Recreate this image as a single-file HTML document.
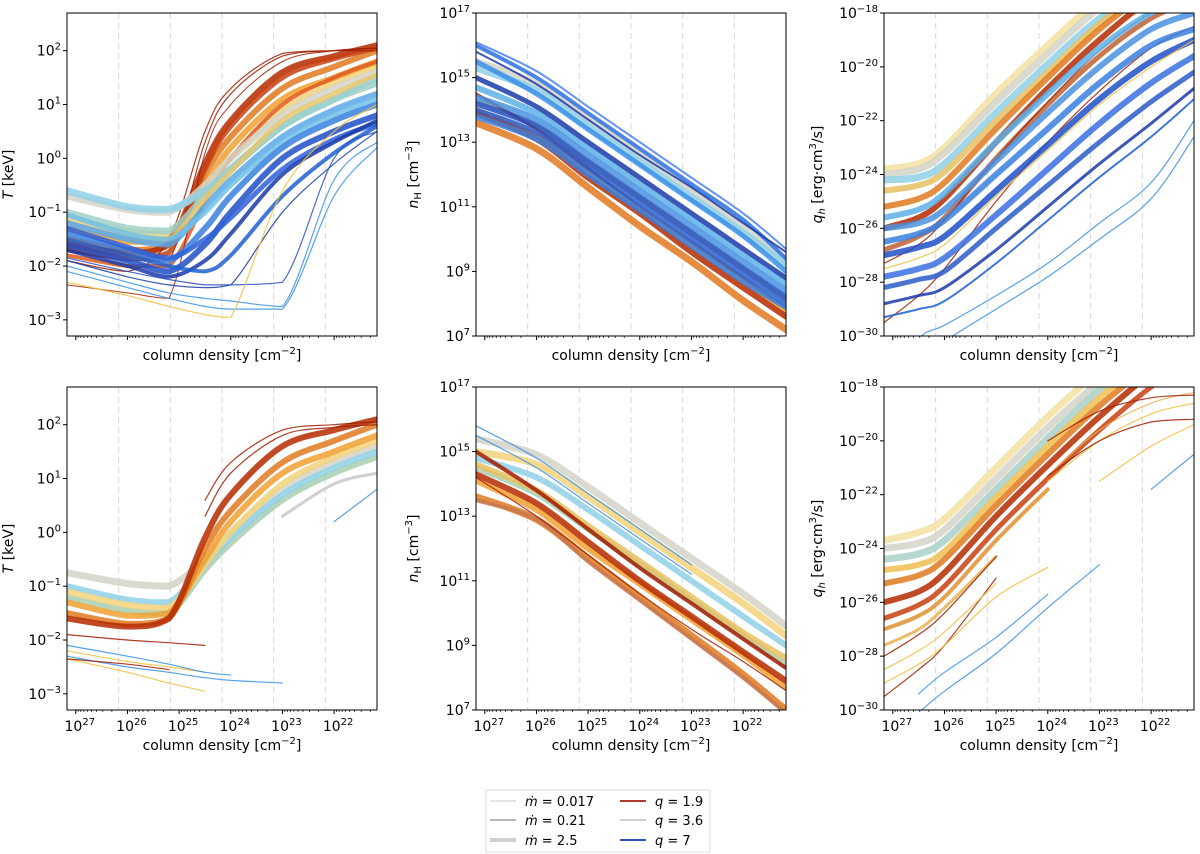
<!DOCTYPE html>
<html><head><meta charset="utf-8"><style>
html,body{margin:0;padding:0;background:#fff;}
svg{display:block;font-family:"DejaVu Sans","Liberation Sans",sans-serif;}
</style></head><body>
<svg id="fig" width="1200" height="854" viewBox="0 0 1200 854" xmlns="http://www.w3.org/2000/svg">
<g id="legend">
<rect x="486" y="790" width="224" height="62" fill="#fff" stroke="#ddd"/>
<line x1="490" y1="801" x2="516" y2="801" stroke="#c8c8c8" stroke-width="1"/>
<text x="525" y="806" font-size="13"><tspan font-style="italic">ṁ</tspan> = 0.017</text>
<line x1="490" y1="820" x2="516" y2="820" stroke="#b8b8b8" stroke-width="2"/>
<text x="525" y="825" font-size="13"><tspan font-style="italic">ṁ</tspan> = 0.21</text>
<line x1="490" y1="840" x2="516" y2="840" stroke="#d0d0d0" stroke-width="4"/>
<text x="525" y="845" font-size="13"><tspan font-style="italic">ṁ</tspan> = 2.5</text>
<line x1="620" y1="801" x2="646" y2="801" stroke="#b03a2e" stroke-width="2"/>
<text x="655" y="806" font-size="13"><tspan font-style="italic">q</tspan> = 1.9</text>
<line x1="620" y1="820" x2="646" y2="820" stroke="#cfcfcf" stroke-width="2"/>
<text x="655" y="825" font-size="13"><tspan font-style="italic">q</tspan> = 3.6</text>
<line x1="620" y1="840" x2="646" y2="840" stroke="#3050c0" stroke-width="2"/>
<text x="655" y="845" font-size="13"><tspan font-style="italic">q</tspan> = 7</text>
</g>
</svg>
<script>
const X_T=[27.17,26,25.2,24.5,24,23,22,21.17];
const X_N=[27.17,26,25,24,23,22,21.17];
const X_Q=[27.17,26.5,26,25,24,23,22,21.17];
const xTicks=[27,26,25,24,23,22];
const dashedAt=[26.17,25.17,24.17,23.17,22.17];
const tTicks=[-3,-2,-1,0,1,2];
const nTicks=[7,9,11,13,15,17];
const qTicks=[-30,-28,-26,-24,-22,-20,-18];
const _=null;
const curvesT1=[
['#f3d27a',6,[-1.1,-1.35,-1.4,-0.6,0.0,0.9,1.4,1.7]],
['#f0a030',6,[-1.3,-1.55,-1.5,-0.5,0.2,1.1,1.5,1.8]],
['#e07a20',6,[-1.5,-1.7,-1.6,-0.3,0.4,1.3,1.7,2.0]],
['#b52a00',6,[-1.6,-1.75,-1.6,-0.1,0.7,1.6,1.9,2.1]],
['#c84010',5,[-1.7,-1.85,-1.75,-0.2,0.6,1.5,1.85,2.05]],
['#e05a20',4,[-1.8,-2.0,-2.0,-0.8,0.0,1.0,1.5,1.8]],
['#a01c00',1.2,[-1.7,-1.9,-1.9,0.3,1.2,1.9,2.0,2.05]],
['#a01c00',1.2,[-1.9,-2.1,-1.5,0.5,1.3,1.95,2.0,2.0]],
['#a01c00',1,[-2.35,-2.5,-2.6,0.1,1.0,1.8,2.0,2.05]],
['#d3d3c8',7,[-0.7,-0.95,-1.0,-0.5,0.0,0.8,1.3,1.6]],
['#8fd0e8',7,[-0.6,-0.9,-0.95,-0.6,-0.2,0.6,1.1,1.5]],
['#9fd0c8',7,[-1.0,-1.3,-1.35,-0.7,-0.2,0.6,1.1,1.4]],
['#e8c870',5,[-1.2,-1.45,-1.5,-0.75,-0.25,0.7,1.2,1.55]],
['#5aa8e8',6,[-1.2,-1.5,-1.6,-0.9,-0.4,0.4,0.9,1.2]],
['#70c0e8',5,[-1.05,-1.4,-1.5,-1.0,-0.5,0.3,0.8,1.1]],
['#3a80e0',6,[-1.4,-1.7,-1.9,-1.3,-0.7,0.2,0.7,1.0]],
['#2050c8',6,[-1.6,-1.9,-2.1,-1.6,-1.0,0.0,0.5,0.8]],
['#3060d8',5,[-1.3,-1.65,-1.85,-1.5,-1.1,-0.2,0.35,0.65]],
['#1a3aa8',4,[-1.7,-2.0,-2.2,-1.9,-1.4,-0.3,0.3,0.7]],
['#2060d0',4,[-1.5,-1.8,-2.0,-2.1,-1.8,-0.7,0.1,0.6]],
['#1a3aa8',1.2,[-1.9,-2.2,-2.35,-2.4,-2.35,-1.0,-0.1,0.5]],
['#2a50c0',1.2,[-1.85,-2.1,-2.25,-2.35,-2.35,-2.3,0.0,0.5]],
['#3a90e8',1.2,[-2.0,-2.3,-2.5,-2.6,-2.65,-2.75,-0.4,0.3]],
['#3a90e8',1.2,[-2.1,-2.4,-2.6,-2.75,-2.8,-2.8,-0.7,0.2]],
['#f0c040',1.2,[-2.3,-2.55,-2.75,-2.9,-2.95,-0.6,0.5,1.0]]
];
const curvesN1=[
['#f3d27a',6,[14.3,13.5,12.4,11.3,10.2,9.1,8.1]],
['#f0a030',6,[14.0,13.2,12.1,10.9,9.8,8.7,7.8]],
['#e07a20',7,[13.6,12.8,11.6,10.4,9.3,8.1,7.2]],
['#b52a00',6,[13.9,13.1,11.9,10.8,9.6,8.5,7.6]],
['#a01c00',3,[14.5,13.4,12.2,11.0,9.9,8.8,7.9]],
['#d3d3c8',7,[15.5,14.8,13.7,12.6,11.5,10.4,9.3]],
['#8fd0e8',7,[15.3,14.6,13.5,12.4,11.3,10.2,9.2]],
['#5ab0e8',6,[14.7,13.9,12.8,11.7,10.6,9.5,8.6]],
['#2a60d0',5,[14.0,13.3,12.2,11.1,10.0,8.9,8.0]],
['#3a80e0',6,[13.8,13.1,12.0,10.9,9.8,8.7,7.9]],
['#2050c8',6,[14.2,13.5,12.4,11.3,10.2,9.1,8.2]],
['#4a90e0',6,[14.4,13.7,12.6,11.5,10.4,9.3,8.4]],
['#1a3aa8',5,[15.0,14.1,13.0,11.9,10.8,9.7,8.8]],
['#3a90e8',5,[15.5,14.5,13.4,12.3,11.2,10.1,9.0]],
['#2a70e0',4,[16.0,15.0,13.9,12.8,11.7,10.6,9.4]],
['#1a3aa8',2,[15.8,14.8,13.7,12.6,11.6,10.5,9.6]],
['#4a80f0',2,[16.1,15.2,14.1,13.0,11.9,10.8,9.7]]
];
const curvesQ1=[
['#f3e0a0',7,[-23.8,-23.6,-23.0,-21.0,-19.2,-17.5,-16.2,-15.6]],
['#d3d3c8',7,[-24.0,-23.8,-23.2,-21.3,-19.5,-17.8,-16.5,-16.0]],
['#8fd0e8',7,[-24.2,-24.1,-23.6,-21.7,-19.9,-18.2,-17.0,-16.5]],
['#e8c060',6,[-24.6,-24.4,-23.9,-22.0,-20.2,-18.4,-17.1,-16.5]],
['#e07a20',6,[-25.2,-24.9,-24.3,-22.3,-20.4,-18.6,-17.2,-16.5]],
['#b52a00',6,[-26.0,-25.6,-24.9,-22.8,-20.8,-19.0,-17.5,-17.0]],
['#c06030',5,[-26.8,-26.3,-25.6,-23.4,-21.4,-19.6,-18.2,-17.5]],
['#a01c00',1.2,[-27.3,-26.6,-25.7,-23.4,-21.3,-19.4,-18.0,-17.5]],
['#a01c00',1.2,[-29.5,-28.5,-27.5,-25.0,-22.8,-20.9,-19.3,-18.5]],
['#5ab0e8',6,[-25.6,-25.3,-24.7,-22.8,-21.0,-19.3,-18.0,-17.5]],
['#4a90e0',6,[-26.0,-25.8,-25.3,-23.5,-21.7,-20.0,-18.6,-18.0]],
['#3a80e0',6,[-26.5,-26.2,-25.7,-24.0,-22.3,-20.6,-19.2,-18.6]],
['#2050c8',6,[-27.0,-26.7,-26.3,-24.6,-22.9,-21.2,-19.8,-19.0]],
['#3a70e0',6,[-27.8,-27.5,-27.1,-25.5,-23.8,-22.1,-20.6,-19.6]],
['#2a5cc8',5,[-28.2,-27.9,-27.6,-26.0,-24.4,-22.8,-21.3,-20.2]],
['#f0c040',1.2,[-27.5,-27.1,-26.6,-24.8,-23.1,-21.4,-20.0,-19.0]],
['#1a3aa8',3,[-28.8,-28.5,-28.2,-26.8,-25.2,-23.6,-22.1,-20.8]],
['#2060d0',2,[-29.3,-29.0,-28.7,-27.3,-25.7,-24.1,-22.6,-21.2]],
['#3a90e8',1.2,[-32,-30.1,-29.6,-28.5,-27.3,-25.8,-24.3,-22.0]],
['#3a90e8',1.2,[-33,-31,-30.2,-29.0,-27.8,-26.4,-24.9,-22.6]]
];
const curvesT2=[
['#d3d3c8',7,[-0.75,-0.95,-1.0,-0.5,0.0,0.8,1.3,1.6]],
['#a9cfb0',6,[-1.2,-1.45,-1.5,-0.7,-0.2,0.6,1.1,1.4]],
['#8fd0e8',6,[-1.0,-1.25,-1.3,-0.6,-0.1,0.7,1.2,1.5]],
['#f3d27a',6,[-1.1,-1.35,-1.4,-0.6,0.0,0.9,1.4,1.7]],
['#f0a030',6,[-1.3,-1.55,-1.5,-0.5,0.2,1.1,1.5,1.8]],
['#e07a20',6,[-1.5,-1.7,-1.6,-0.3,0.4,1.3,1.7,2.0]],
['#b52a00',6,[-1.6,-1.75,-1.6,-0.1,0.7,1.6,1.9,2.1]],
['#a01c00',1.2,[_,_,_,0.6,1.3,1.9,2.0,2.05]],
['#a01c00',1.2,[_,_,_,0.3,1.1,1.8,1.95,2.0]],
['#c8c8c8',3,[_,_,_,_,_,0.3,0.9,1.1]],
['#a01c00',1.2,[-1.9,-2.0,-2.05,-2.1,_,_,_,_]],
['#f0c040',1.2,[-2.2,-2.4,-2.5,-2.6,_,_,_,_]],
['#f0c040',1.2,[-2.35,-2.6,-2.8,-2.95,_,_,_,_]],
['#3a90e8',1.2,[-2.1,-2.3,-2.45,-2.6,-2.65,_,_,_]],
['#3a90e8',1.2,[-2.3,-2.5,-2.6,-2.7,-2.75,-2.8,_,_]],
['#a01c00',1.2,[-2.35,-2.45,-2.55,_,_,_,_,_]],
['#3a90e8',1.2,[_,_,_,_,_,_,0.2,0.8]]
];
const curvesN2=[
['#d3d3c8',7,[15.4,14.9,13.9,12.8,11.7,10.6,9.6]],
['#f3d27a',7,[15.0,14.6,13.6,12.5,11.4,10.3,9.3]],
['#8fd0e8',6,[14.8,14.2,13.2,12.1,11.0,9.9,9.0]],
['#a9cfb0',6,[14.5,13.7,12.6,11.5,10.4,9.3,8.4]],
['#e8c060',6,[14.6,13.8,12.7,11.6,10.5,9.4,8.6]],
['#f0a030',6,[14.1,13.2,12.0,10.9,9.8,8.7,7.7]],
['#e07a20',7,[13.6,12.9,11.7,10.5,9.3,8.1,7.0]],
['#c87850',4,[13.5,12.9,11.6,10.4,9.2,8.0,6.9]],
['#b52a00',6,[14.3,13.4,12.2,11.0,9.9,8.8,7.9]],
['#a01c00',4,[15.0,13.8,12.6,11.4,10.3,9.2,8.3]],
['#a01c00',1.2,[14.2,13.0,11.8,10.6,9.5,8.5,7.6]],
['#3a90e8',1.2,[15.8,14.8,13.7,12.6,11.5,_,_]],
['#3a90e8',1.2,[15.5,14.5,13.4,12.3,11.2,_,_]]
];
const curvesQ2=[
['#f3e0a0',7,[-23.7,-23.4,-22.9,-21.0,-19.1,-17.4,-16.0,-15.0]],
['#d3d3c8',7,[-24.0,-23.8,-23.3,-21.4,-19.5,-17.8,-16.3,-15.5]],
['#a9cfc8',7,[-24.4,-24.2,-23.7,-21.8,-19.9,-18.1,-16.6,-15.8]],
['#f0c050',6,[-24.8,-24.6,-24.1,-22.1,-20.2,-18.4,-16.9,-16.0]],
['#e07a20',6,[-25.3,-25.0,-24.4,-22.4,-20.5,-18.7,-17.2,-16.3]],
['#b52a00',6,[-26.0,-25.6,-24.9,-22.8,-20.9,-19.1,-17.5,-16.6]],
['#c84010',5,[-26.6,-26.1,-25.4,-23.3,-21.4,-19.6,-18.0,-17.0]],
['#e09030',4,[-27.0,-26.5,-25.8,-23.7,-21.8,_,_,_]],
['#e8b050',3,[-27.6,-27.0,-26.2,-24.3,_,_,_,_]],
['#a01c00',1.2,[-28.0,-27.2,-26.4,-24.3,_,_,_,_]],
['#a01c00',1.2,[-29.5,-28.5,-27.6,-25.1,_,_,_,_]],
['#f0c040',1.2,[-28.5,-27.8,-27.1,-25.3,_,_,_,_]],
['#f0c040',1.2,[-29.0,-28.3,-27.6,-25.8,-24.7,_,_,_]],
['#f0c040',1.2,[_,_,_,_,-21.5,-20.0,-19.0,-18.6]],
['#f0c040',1.2,[_,_,_,_,_,-21.5,-20.2,-19.4]],
['#e8b050',1.2,[_,_,_,_,-21.3,-19.6,-18.6,-18.2]],
['#a01c00',1.2,[_,_,_,_,-21.3,-20.0,-19.3,-19.2]],
['#a01c00',1.2,[_,_,_,_,-20.0,-18.9,-18.4,-18.3]],
['#3a90e8',1.2,[_,-30.1,-29.3,-27.9,-26.2,-24.6,_,_]],
['#3a90e8',1.2,[_,-29.4,-28.6,-27.3,-25.7,_,_,_]],
['#3a90e8',1.2,[_,_,_,_,_,_,-21.8,-20.5]]
];
const panels=[
{n:'temperature-panel-top',x:67,y:13,ymin:-3.3,ymax:2.7,X:X_T,c:curvesT1,ticks:tTicks,lab:'T',xl:false},
{n:'density-panel-top',x:476,y:13,ymin:7,ymax:17,X:X_N,c:curvesN1,ticks:nTicks,lab:'n',xl:false},
{n:'heating-panel-top',x:884,y:13,ymin:-30,ymax:-18,X:X_Q,c:curvesQ1,ticks:qTicks,lab:'q',xl:false},
{n:'temperature-panel-bottom',x:67,y:387,ymin:-3.3,ymax:2.7,X:X_T,c:curvesT2,ticks:tTicks,lab:'T',xl:true},
{n:'density-panel-bottom',x:476,y:387,ymin:7,ymax:17,X:X_N,c:curvesN2,ticks:nTicks,lab:'n',xl:true},
{n:'heating-panel-bottom',x:884,y:387,ymin:-30,ymax:-18,X:X_Q,c:curvesQ2,ticks:qTicks,lab:'q',xl:true}
];
const W=310,H=323,XL=27.17,XR=21.17;
const NS='http://www.w3.org/2000/svg';
const fig=document.getElementById('fig');
function mk(t,a,p){const e=document.createElementNS(NS,t);for(const k in a)e.setAttribute(k,a[k]);(p||fig).appendChild(e);return e;}
function clampY(v,a,b){const lo=Math.min(a,b),hi=Math.max(a,b);return Math.max(lo,Math.min(hi,v));}
function pathFrom(pts){let d='M'+pts[0][0].toFixed(1)+','+pts[0][1].toFixed(1);
for(let i=0;i<pts.length-1;i++){const p0=pts[i-1]||pts[i],p1=pts[i],p2=pts[i+1],p3=pts[i+2]||p2;
const c1=[p1[0]+(p2[0]-p0[0])/6,clampY(p1[1]+(p2[1]-p0[1])/6,p1[1],p2[1])],c2=[p2[0]-(p3[0]-p1[0])/6,clampY(p2[1]-(p3[1]-p1[1])/6,p1[1],p2[1])];
d+='C'+c1[0].toFixed(1)+','+c1[1].toFixed(1)+' '+c2[0].toFixed(1)+','+c2[1].toFixed(1)+' '+p2[0].toFixed(1)+','+p2[1].toFixed(1);}
return d;}
const defs=mk('defs',{});
panels.forEach((p,pi)=>{
const xs=l=>p.x+(XL-l)*W/(XL-XR);
const ys=v=>p.y+(p.ymax-v)/(p.ymax-p.ymin)*H;
const g=mk('g',{});


const cp=mk('clipPath',{id:'cp'+pi},defs);mk('rect',{x:p.x,y:p.y,width:W,height:H},cp);
dashedAt.forEach(l=>{const ln=mk('line',{x1:xs(l),x2:xs(l),y1:p.y,y2:p.y+H,stroke:'#d8d8d8','stroke-dasharray':'6,4','stroke-width':1},g);

});
const cg=mk('g',{'clip-path':'url(#cp'+pi+')'},g);
p.c.forEach(cv=>{const col=cv[0],w=cv[1],v=cv[2];let seg=[];const segs=[];
v.forEach((val,i)=>{if(val===null){if(seg.length>1)segs.push(seg);seg=[];}else seg.push([xs(p.X[i]),ys(val)]);});
if(seg.length>1)segs.push(seg);
segs.forEach(s=>{const e=mk('path',{d:pathFrom(s),fill:'none',stroke:col,'stroke-width':w,'stroke-opacity':0.85,'stroke-linecap':'round'},cg);

});});
mk('rect',{x:p.x,y:p.y,width:W,height:H,fill:'none',stroke:'#000','stroke-width':1},g);
for(let d=27;d>=21;d--){for(let m=1;m<10;m++){const l=d+Math.log10(m);if(l>XL||l<XR)continue;const X=xs(l);
mk('line',{x1:X,x2:X,y1:p.y+H,y2:p.y+H+(m===1?4:2),stroke:'#000','stroke-width':m===1?1:0.7},g);}}
if(p.xl){xTicks.forEach(d=>{const t=mk('text',{x:xs(d)+4,y:p.y+H+21,'font-size':14,'text-anchor':'middle'},g);


t.innerHTML='10<tspan dy="-6" font-size="10">'+d+'</tspan>';});}
const xt=mk('text',{x:p.x+W/2,y:p.y+H+(p.xl?40:24),'font-size':14,'text-anchor':'middle'},g);


xt.innerHTML='column density [cm<tspan dy="-6" font-size="10">−2</tspan><tspan dy="6">]</tspan>';
p.ticks.forEach(v=>{const Y=ys(v);mk('line',{x1:p.x-4,x2:p.x,y1:Y,y2:Y,stroke:'#000'},g);
const s=(v<0?'−'+(-v):''+v);
const t=mk('text',{x:p.x-6,y:Y+5,'font-size':14,'text-anchor':'end'},g);


t.innerHTML='10<tspan dy="-6" font-size="10">'+s+'</tspan>';});
const tx=p.lab==='T'?p.x-54:(p.lab==='n'?p.x-58:p.x-62);
const yt=mk('text',{transform:'translate('+tx+','+(p.y+H/2)+') rotate(-90)','font-size':14,'text-anchor':'middle'},g);


if(p.lab==='T')yt.innerHTML='<tspan font-style="italic">T</tspan> [keV]';
else if(p.lab==='n')yt.innerHTML='<tspan font-style="italic">n</tspan><tspan font-size="10" dy="3">H</tspan><tspan dy="-3"> [cm</tspan><tspan dy="-6" font-size="10">−3</tspan><tspan dy="6">]</tspan>';
else yt.innerHTML='<tspan font-style="italic">q</tspan><tspan font-size="10" dy="3" font-style="italic">h</tspan><tspan dy="-3"> [erg·cm</tspan><tspan dy="-6" font-size="10">3</tspan><tspan dy="6">/s]</tspan>';
});
</script>
</body></html>
